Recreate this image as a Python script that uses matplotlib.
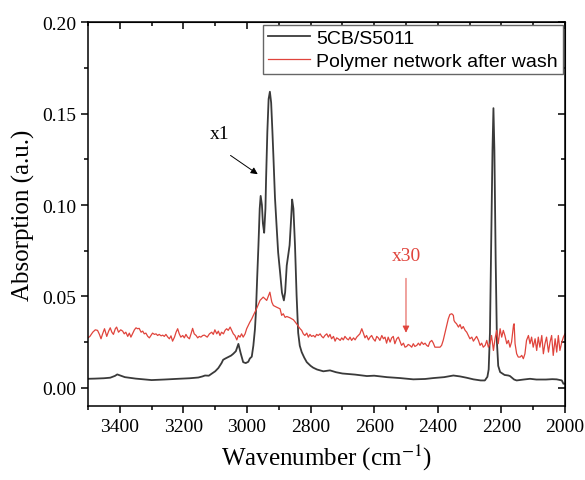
import numpy as np
import matplotlib.pyplot as plt
from matplotlib.ticker import MultipleLocator, FormatStrFormatter

plt.rcParams['font.family'] = ['Liberation Serif', 'DejaVu Serif']
plt.rcParams['mathtext.fontset'] = 'stix'

# 5CB/S5011 spectrum
lc_wn = [3500, 3478, 3450, 3430, 3415, 3408, 3400, 3384, 3350, 3300, 3260, 3216, 3180,
         3153, 3140, 3132, 3120, 3111, 3100, 3090, 3080, 3075, 3068, 3059, 3050, 3043,
         3035, 3027, 3020, 3012, 3004, 2996, 2991, 2985, 2980, 2975, 2972, 2968, 2964,
         2960, 2957, 2953, 2950, 2946, 2942, 2940, 2936, 2932, 2928, 2924, 2920, 2917,
         2912, 2907, 2902, 2896, 2890, 2884, 2880, 2875, 2870, 2866, 2862, 2858, 2854,
         2849, 2844, 2839, 2834, 2828, 2820, 2812, 2800, 2792, 2780, 2760, 2739, 2720,
         2700, 2660, 2623, 2600, 2560, 2519, 2477, 2440, 2414, 2380, 2351, 2330, 2310,
         2288, 2265, 2252, 2244, 2240, 2236, 2232, 2228, 2225, 2222, 2218, 2214, 2210,
         2204, 2190, 2178, 2173, 2160, 2152, 2130, 2110, 2090, 2060, 2040, 2026, 2010,
         2005, 2000]
lc_abs = [0.0049, 0.0050, 0.0052, 0.0055, 0.0065, 0.0073, 0.0068, 0.0058, 0.0050, 0.0042,
          0.0045, 0.0049, 0.0052, 0.0056, 0.0062, 0.0067, 0.0066, 0.0077, 0.0090, 0.0108,
          0.0135, 0.0153, 0.0160, 0.0168, 0.0176, 0.0186, 0.0200, 0.0240, 0.0190, 0.0140,
          0.0135, 0.0142, 0.0160, 0.0170, 0.0230, 0.0320, 0.0410, 0.0600, 0.0778, 0.0980,
          0.1050, 0.1000, 0.0900, 0.0848, 0.0980, 0.1140, 0.1400, 0.1580, 0.1620, 0.1560,
          0.1400, 0.1270, 0.1040, 0.0888, 0.0740, 0.0633, 0.0520, 0.0478, 0.0523, 0.0669,
          0.0730, 0.0780, 0.0900, 0.1030, 0.0980, 0.0778, 0.0505, 0.0300, 0.0230, 0.0195,
          0.0165, 0.0140, 0.0120, 0.0110, 0.0100, 0.0090, 0.0095, 0.0085, 0.0078, 0.0072,
          0.0064, 0.0066, 0.0058, 0.0053, 0.0046, 0.0048, 0.0053, 0.0058, 0.0067, 0.0062,
          0.0055, 0.0046, 0.0040, 0.0040, 0.0060, 0.0100, 0.0300, 0.0800, 0.1300, 0.1530,
          0.1300, 0.0700, 0.0250, 0.0120, 0.0086, 0.0070, 0.0067, 0.0064, 0.0045, 0.0040,
          0.0045, 0.0049, 0.0045, 0.0045, 0.0047, 0.0046, 0.0040, 0.0022, 0.0022]

# polymer network after wash (x30)
pn_wn = [3500, 3494, 3485, 3477, 3470, 3464, 3459, 3454, 3448, 3441, 3435, 3430, 3425, 3420,
         3414, 3410, 3404, 3397, 3391, 3386, 3381, 3375, 3370, 3365, 3360, 3354, 3349, 3344,
         3339, 3333, 3328, 3323, 3318, 3312, 3307, 3302, 3297, 3291, 3286, 3281, 3276, 3270,
         3265, 3260, 3255, 3249, 3244, 3239, 3234, 3228, 3223, 3218, 3213, 3208, 3202, 3197,
         3192, 3187, 3181, 3176, 3171, 3166, 3160, 3155, 3150, 3145, 3139, 3134, 3125, 3118,
         3111, 3106, 3101, 3095, 3090, 3085, 3080, 3074, 3069, 3064, 3059, 3053, 3048, 3043,
         3038, 3032, 3027, 3022, 3017, 3012, 3006, 3001, 2996, 2991, 2985, 2980, 2970, 2959,
         2949, 2938, 2928, 2922, 2917, 2907, 2896, 2891, 2886, 2880, 2875, 2865, 2854, 2844,
         2833, 2828, 2823, 2818, 2812, 2807, 2802, 2797, 2791, 2786, 2781, 2776, 2770, 2765,
         2760, 2755, 2749, 2744, 2739, 2734, 2728, 2723, 2718, 2713, 2707, 2702, 2697, 2692,
         2686, 2681, 2676, 2671, 2665, 2660, 2655, 2650, 2645, 2639, 2634, 2629, 2624, 2618,
         2613, 2608, 2603, 2597, 2592, 2587, 2582, 2576, 2571, 2566, 2561, 2556, 2550, 2545,
         2540, 2535, 2529, 2524, 2519, 2514, 2508, 2503, 2498, 2493, 2488, 2482, 2477, 2472,
         2466, 2461, 2456, 2451, 2445, 2440, 2435, 2430, 2425, 2419, 2414, 2409, 2393, 2388,
         2383, 2377, 2372, 2367, 2362, 2356, 2351, 2349, 2346, 2341, 2335, 2330, 2325, 2320,
         2314, 2309, 2304, 2299, 2293, 2288, 2283, 2278, 2272, 2267, 2262, 2257, 2251, 2246,
         2241, 2236, 2231, 2225, 2220, 2215, 2210, 2204, 2199, 2194, 2189, 2183, 2178, 2173,
         2168, 2162, 2160, 2157, 2152, 2147, 2141, 2136, 2131, 2126, 2121, 2115, 2110, 2105,
         2100, 2094, 2089, 2084, 2079, 2073, 2068, 2063, 2058, 2052, 2047, 2042, 2037, 2031,
         2026, 2021, 2016, 2010, 2005, 2000]
pn_abs = [0.0273, 0.0281, 0.0304, 0.0317, 0.0314, 0.0292, 0.0268, 0.0295, 0.0323, 0.0281,
          0.0310, 0.0328, 0.0304, 0.0292, 0.0323, 0.0332, 0.0304, 0.0317, 0.0310, 0.0295,
          0.0304, 0.0281, 0.0299, 0.0277, 0.0295, 0.0317, 0.0328, 0.0323, 0.0325, 0.0304,
          0.0310, 0.0295, 0.0299, 0.0281, 0.0273, 0.0286, 0.0299, 0.0292, 0.0295, 0.0286,
          0.0292, 0.0284, 0.0288, 0.0281, 0.0292, 0.0277, 0.0268, 0.0284, 0.0255, 0.0277,
          0.0304, 0.0323, 0.0295, 0.0277, 0.0286, 0.0273, 0.0292, 0.0277, 0.0268, 0.0295,
          0.0325, 0.0295, 0.0286, 0.0273, 0.0281, 0.0277, 0.0286, 0.0288, 0.0277, 0.0295,
          0.0304, 0.0292, 0.0317, 0.0295, 0.0310, 0.0286, 0.0304, 0.0295, 0.0314, 0.0323,
          0.0314, 0.0332, 0.0314, 0.0295, 0.0286, 0.0262, 0.0286, 0.0277, 0.0295, 0.0277,
          0.0295, 0.0323, 0.0341, 0.0359, 0.0377, 0.0396, 0.0432, 0.0478, 0.0496, 0.0478,
          0.0523, 0.0469, 0.0450, 0.0441, 0.0432, 0.0396, 0.0405, 0.0385, 0.0390, 0.0383,
          0.0372, 0.0350, 0.0323, 0.0314, 0.0295, 0.0286, 0.0299, 0.0277, 0.0292, 0.0281,
          0.0286, 0.0277, 0.0292, 0.0286, 0.0295, 0.0281, 0.0273, 0.0286, 0.0295, 0.0277,
          0.0292, 0.0268, 0.0281, 0.0255, 0.0273, 0.0268, 0.0259, 0.0273, 0.0262, 0.0281,
          0.0268, 0.0262, 0.0277, 0.0259, 0.0273, 0.0262, 0.0277, 0.0286, 0.0295, 0.0323,
          0.0299, 0.0273, 0.0286, 0.0262, 0.0277, 0.0286, 0.0268, 0.0255, 0.0281, 0.0273,
          0.0259, 0.0286, 0.0268, 0.0277, 0.0244, 0.0277, 0.0250, 0.0273, 0.0281, 0.0241,
          0.0268, 0.0277, 0.0255, 0.0232, 0.0244, 0.0222, 0.0226, 0.0237, 0.0232, 0.0222,
          0.0241, 0.0226, 0.0232, 0.0244, 0.0232, 0.0250, 0.0237, 0.0244, 0.0232, 0.0226,
          0.0250, 0.0259, 0.0244, 0.0222, 0.0222, 0.0232, 0.0259, 0.0304, 0.0341, 0.0377,
          0.0401, 0.0405, 0.0396, 0.0368, 0.0359, 0.0350, 0.0332, 0.0346, 0.0323, 0.0335,
          0.0314, 0.0304, 0.0286, 0.0268, 0.0277, 0.0255, 0.0268, 0.0281, 0.0259, 0.0232,
          0.0244, 0.0222, 0.0232, 0.0259, 0.0222, 0.0241, 0.0286, 0.0204, 0.0268, 0.0314,
          0.0241, 0.0323, 0.0277, 0.0314, 0.0286, 0.0241, 0.0259, 0.0222, 0.0250, 0.0341,
          0.0350, 0.0241, 0.0186, 0.0168, 0.0168, 0.0177, 0.0159, 0.0186, 0.0259, 0.0286,
          0.0241, 0.0277, 0.0222, 0.0268, 0.0204, 0.0277, 0.0222, 0.0286, 0.0186, 0.0241,
          0.0277, 0.0195, 0.0250, 0.0286, 0.0177, 0.0268, 0.0195, 0.0286, 0.0204, 0.0250,
          0.0277, 0.0295]

fig = plt.figure(figsize=(5.85, 4.81), dpi=100)
ax = fig.add_axes([0.1504, 0.1538, 0.8154, 0.7978])

ax.plot(lc_wn, lc_abs, color='#3a3a3a', lw=1.3, label='5CB/S5011')
ax.plot(pn_wn, pn_abs, color='#e0443c', lw=0.9, label='Polymer network after wash')

ax.set_xlim(3500, 2000)
ax.set_ylim(-0.01, 0.20)
ax.xaxis.set_major_locator(MultipleLocator(200))
ax.xaxis.set_minor_locator(MultipleLocator(100))
ax.yaxis.set_major_locator(MultipleLocator(0.05))
ax.yaxis.set_minor_locator(MultipleLocator(0.025))
ax.yaxis.set_major_formatter(FormatStrFormatter('%.2f'))
ax.tick_params(which='both', direction='out', labelsize=14, width=1.1)
ax.tick_params(which='major', length=5)
ax.tick_params(which='minor', length=3)
for s in ax.spines.values():
    s.set_linewidth(1.1)

# inward ticks on top and right
top = ax.secondary_xaxis('top')
top.xaxis.set_major_locator(MultipleLocator(200))
top.xaxis.set_minor_locator(MultipleLocator(100))
top.tick_params(which='both', direction='in', labeltop=False, width=1.1)
top.tick_params(which='major', length=5)
top.tick_params(which='minor', length=3)
right = ax.secondary_yaxis('right')
right.yaxis.set_major_locator(MultipleLocator(0.05))
right.yaxis.set_minor_locator(MultipleLocator(0.025))
right.tick_params(which='both', direction='in', labelright=False, width=1.1)
right.tick_params(which='major', length=5)
right.tick_params(which='minor', length=3)

ax.set_xlabel('Wavenumber (cm$^{-1}$)', fontsize=18, labelpad=5)
ax.set_ylabel('Absorption (a.u.)', fontsize=18, labelpad=5)

ax.annotate('', xy=(2959, 0.116), xytext=(3059, 0.128),
            arrowprops=dict(arrowstyle='-|>', color='black', lw=0.7, mutation_scale=10))
ax.text(3085, 0.139, 'x1', fontsize=14, ha='center', va='center', color='black')
ax.annotate('', xy=(2500, 0.0286), xytext=(2500, 0.0614),
            arrowprops=dict(arrowstyle='-|>', color='#e0443c', lw=0.7, mutation_scale=10))
ax.text(2500, 0.0724, 'x30', fontsize=14, ha='center', va='center', color='#e0443c')

leg = ax.legend(loc='upper right', prop={'family': 'Liberation Sans', 'size': 14},
                fancybox=False, edgecolor='#666666', framealpha=1, borderaxespad=0.12,
                handlelength=2.2, handletextpad=0.3, labelspacing=0.25, borderpad=0.25)
leg.get_frame().set_linewidth(1.0)

fig.savefig('out.png', dpi=100)
